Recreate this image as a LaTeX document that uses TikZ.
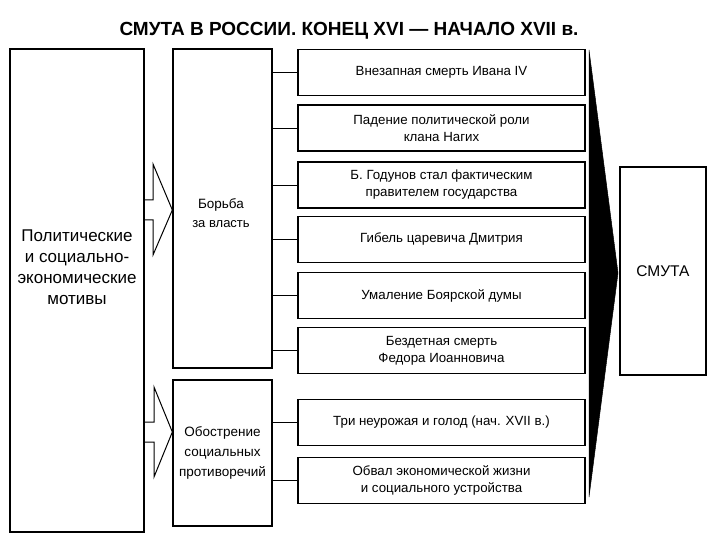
\documentclass[tikz,border=0pt]{standalone}
\usepackage{fontspec}
\setmainfont{Liberation Sans}
\begin{document}
\begin{tikzpicture}[x=1pt,y=-1pt,
  box/.style={draw, line width=1.3pt, inner sep=0pt, align=center},
  fact/.style={box, minimum width=287pt, minimum height=46pt, font=\fontsize{13.3}{17}\selectfont},
  midbox/.style={box, minimum width=99pt, font=\fontsize{13.5}{20}\selectfont},
  label/.style={inner sep=0pt, align=center},
  conn/.style={draw, line width=0.9pt},
  hollow/.style={draw, line width=1pt, line join=miter},
  solidarrow/.style={fill=black, draw=black, line width=0.5pt}]
\useasboundingbox (0,0) rectangle (720,540);

\node (title) at (349,31) {\fontsize{19}{22}\selectfont\bfseries СМУТА В РОССИИ. КОНЕЦ XVI — НАЧАЛО XVII в.};

\node[box, minimum width=134pt, minimum height=483pt] (motives) at (77,290.5) {};
\node[label, font=\fontsize{17}{21}\selectfont] (motivestext) at (77,267)
  {Политические\\и социально-\\экономические\\мотивы};

\node[midbox, minimum height=319pt] (power) at (222.5,208.5) {};
\node[label, font=\fontsize{13.5}{20}\selectfont] (powertext) at (221,213) {Борьба\\[-1pt]{\fontsize{13}{14}\selectfont за власть}};
\node[midbox, minimum height=146pt] (social) at (222.5,453) {Обострение\\социальных\\противоречий};

\node[fact] (f1) at (441.5,72.5) {Внезапная смерть Ивана IV};
\node[fact] (f2) at (441.5,128) {Падение политической роли\\клана Нагих};
\node[fact] (f3) at (441.5,185) {Б. Годунов стал фактическим\\правителем государства};
\node[fact] (f4) at (441.5,239.5) {Гибель царевича Дмитрия};
\node[fact] (f5) at (441.5,295.5) {Умаление Боярской думы};
\node[fact] (f6) at (441.5,350.5) {Бездетная смерть\\Федора Иоанновича};
\node[fact] (f7) at (441.5,422.5) {Три неурожая и голод (нач. XVII в.)};
\node[fact] (f8) at (441.5,480.5) {Обвал экономической жизни\\и социального устройства};

\node[box, minimum width=86pt, minimum height=208pt, font=\fontsize{15.5}{18}\selectfont] (smuta) at (663,271) {СМУТА};

\foreach \f in {f1,f2,f3,f4,f5,f6} {
  \draw[conn] (\f.west) -- (\f.west -| power.east);
}
\foreach \f in {f7,f8} {
  \draw[conn] (\f.west) -- (\f.west -| social.east);
}

% hollow arrows from motives to the two middle boxes
\draw[hollow] (motives.east |- 0,200) -- (153,200) -- (153,164) -- (power.west |- 0,210) -- (153,255) -- (153,220) -- (motives.east |- 0,220);
\draw[hollow] (motives.east |- 0,422) -- (154,422) -- (154,387) -- (social.west |- 0,432) -- (154,477) -- (154,442) -- (motives.east |- 0,442);

% large black arrow to СМУТА
\coordinate (btop) at (589,50);
\coordinate (bbot) at (589,497);
\fill[solidarrow] (btop) -- (618,273) -- (bbot) -- cycle;

\end{tikzpicture}
\end{document}
